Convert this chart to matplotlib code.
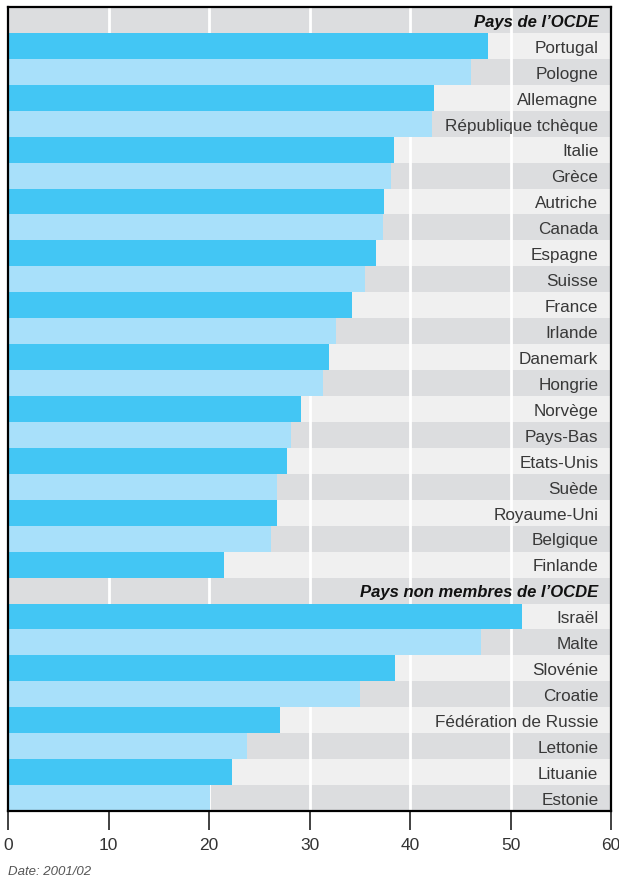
import matplotlib
matplotlib.use("Agg")
import matplotlib.pyplot as plt

plt.rcParams['font.family'] = ['Liberation Sans', 'DejaVu Sans']

header_oecd = "Pays de l’OCDE"
oecd_countries = ["Portugal", "Pologne", "Allemagne", "République tchèque", "Italie",
                  "Grèce", "Autriche", "Canada", "Espagne", "Suisse", "France",
                  "Irlande", "Danemark", "Hongrie", "Norvège", "Pays-Bas",
                  "Etats-Unis", "Suède", "Royaume-Uni", "Belgique", "Finlande"]
oecd_values = [47.8, 46.1, 42.4, 42.2, 38.4, 38.1, 37.4, 37.3, 36.6, 35.5, 34.2,
               32.6, 31.9, 31.3, 29.2, 28.2, 27.8, 26.8, 26.8, 26.2, 21.5]
header_non = "Pays non membres de l’OCDE"
non_countries = ["Israël", "Malte", "Slovénie", "Croatie", "Fédération de Russie",
                 "Lettonie", "Lituanie", "Estonie"]
non_values = [51.1, 47.1, 38.5, 35.0, 27.1, 23.8, 22.3, 20.1]
x_ticks = [0, 10, 20, 30, 40, 50, 60]
note = "Date: 2001/02"

rows = [(header_oecd, None, True)] + [(c, v, False) for c, v in zip(oecd_countries, oecd_values)] \
     + [(header_non, None, True)] + [(c, v, False) for c, v in zip(non_countries, non_values)]

BG_LIGHT = "#f0f0f0"
BG_DARK = "#dcdddf"
BLUE_DARK = "#43c6f4"
BLUE_LIGHT = "#a8e0fa"

fig = plt.figure(figsize=(6.19, 8.79), dpi=100)
ax = fig.add_axes([8/619, 1-812/879, 603/619, 804/879])

n = len(rows)
xmax = x_ticks[-1]
for i, (label, val, is_header) in enumerate(rows):
    bg = BG_LIGHT if i % 2 == 1 else BG_DARK
    ax.barh(i, xmax, height=1, left=0, color=bg, zorder=0, linewidth=0)
    if val is not None:
        ax.barh(i, val, height=1, color=BLUE_DARK if i % 2 == 1 else BLUE_LIGHT,
                zorder=2, linewidth=0)
    if is_header:
        ax.text(58.75, i + 0.05, label, ha='right', va='center', fontsize=12,
                fontweight='bold', fontstyle='italic', color='#111111', zorder=3)
    else:
        ax.text(58.75, i + 0.05, label, ha='right', va='center', fontsize=12.3,
                color='#383838', zorder=3)

for t in x_ticks[1:-1]:
    ax.axvline(t, color='white', lw=2, zorder=1)

ax.set_xlim(0, xmax)
ax.set_ylim(n - 0.5, -0.5)
ax.set_xticks(x_ticks)
ax.set_yticks([])
ax.tick_params(axis='x', length=14, width=1.3, direction='out',
               colors='#333333', pad=5, labelsize=12.5)
for s in ax.spines.values():
    s.set_linewidth(1.6)
    s.set_color('black')

fig.text(8/619, 1-872/879, note, fontsize=9.5, fontstyle='italic', color='#555555',
         ha='left', va='center')

fig.savefig("out.png", dpi=100)
